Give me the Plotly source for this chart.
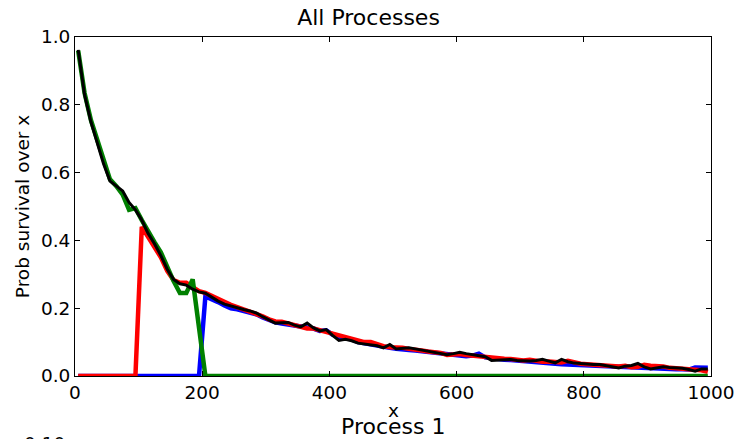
import plotly.graph_objects as go

# sampling grid of the survival curves
x_vals = list(range(5, 1000, 10))

# combined survival curve over all processes
all_surv = [
    0.962, 0.830, 0.750, 0.690, 0.625, 0.575, 0.560, 0.546, 0.512, 0.490,
    0.460, 0.420, 0.390, 0.355, 0.315, 0.285, 0.272, 0.268, 0.256, 0.248,
    0.244, 0.232, 0.221, 0.212, 0.206, 0.200, 0.196, 0.192, 0.186, 0.175,
    0.165, 0.156, 0.157, 0.158, 0.150, 0.145, 0.156, 0.142, 0.133, 0.137,
    0.120, 0.105, 0.108, 0.104, 0.097, 0.095, 0.093, 0.089, 0.083, 0.093,
    0.080, 0.082, 0.083, 0.080, 0.077, 0.074, 0.071, 0.068, 0.063, 0.066,
    0.070, 0.066, 0.063, 0.060, 0.057, 0.046, 0.047, 0.049, 0.049, 0.046,
    0.045, 0.044, 0.046, 0.049, 0.044, 0.039, 0.049, 0.042, 0.038, 0.036,
    0.034, 0.034, 0.034, 0.031, 0.027, 0.024, 0.029, 0.031, 0.037, 0.027,
    0.021, 0.025, 0.027, 0.025, 0.024, 0.023, 0.019, 0.014, 0.021, 0.021,
]

# red process: starts at x = 100
red_surv = [0.0] * 10 + [
    0.440, 0.410, 0.385, 0.350, 0.310, 0.283, 0.275, 0.275, 0.262, 0.250,
    0.245, 0.236, 0.225, 0.218, 0.210, 0.203, 0.197, 0.190, 0.183, 0.176,
    0.167, 0.161, 0.160, 0.155, 0.152, 0.146, 0.140, 0.140, 0.135, 0.130,
    0.125, 0.120, 0.118, 0.112, 0.105, 0.100, 0.100, 0.093, 0.088, 0.085,
    0.085, 0.083, 0.080, 0.076, 0.075, 0.072, 0.070, 0.068, 0.062, 0.063,
    0.065, 0.062, 0.060, 0.058, 0.056, 0.055, 0.050, 0.051, 0.050, 0.047,
    0.046, 0.048, 0.044, 0.042, 0.043, 0.040, 0.040, 0.045, 0.040, 0.036,
    0.035, 0.033, 0.032, 0.032, 0.028, 0.028, 0.030, 0.026, 0.027, 0.033,
    0.030, 0.030, 0.028, 0.024, 0.023, 0.022, 0.020, 0.020, 0.017, 0.012,
]

# blue process: starts at x = 200
blue_surv = [0.0] * 20 + [
    0.235, 0.228, 0.218, 0.208, 0.200, 0.197, 0.192, 0.187, 0.182, 0.173,
    0.165, 0.158, 0.155, 0.152, 0.148, 0.143, 0.140, 0.140, 0.133, 0.135,
    0.122, 0.115, 0.112, 0.108, 0.100, 0.096, 0.092, 0.088, 0.086, 0.083,
    0.080, 0.080, 0.077, 0.075, 0.073, 0.070, 0.068, 0.064, 0.062, 0.061,
    0.060, 0.058, 0.060, 0.066, 0.055, 0.052, 0.050, 0.048, 0.047, 0.045,
    0.043, 0.041, 0.040, 0.040, 0.038, 0.036, 0.035, 0.034, 0.033, 0.032,
    0.031, 0.030, 0.030, 0.029, 0.027, 0.026, 0.025, 0.024, 0.024, 0.023,
    0.022, 0.022, 0.021, 0.021, 0.020, 0.020, 0.019, 0.025, 0.024, 0.024,
]

# green process: ends at x = 200
green_surv = [
    0.960, 0.835, 0.755, 0.695, 0.630, 0.580, 0.560, 0.535, 0.490, 0.495,
    0.460, 0.425, 0.395, 0.365, 0.320, 0.280, 0.245, 0.245, 0.285, 0.130,
] + [0.0] * 80

x_ticks = [0, 200, 400, 600, 800, 1000]
y_ticks = [0.0, 0.2, 0.4, 0.6, 0.8, 1.0]

fig = go.Figure()
for ys, color, width in [
    (blue_surv, "#0000ff", 4.5),
    (red_surv, "#ff0000", 4.5),
    (green_surv, "#008000", 4.5),
    (all_surv, "#000000", 3),
]:
    fig.add_trace(go.Scatter(x=x_vals, y=ys, mode="lines",
                             line=dict(color=color, width=width),
                             showlegend=False, hoverinfo="skip"))

font = "DejaVu Sans, Bitstream Vera Sans, sans-serif"
axis_common = dict(
    showline=True, linecolor="black", linewidth=1, mirror="allticks",
    ticks="inside", ticklen=5, tickcolor="black", tickwidth=1,
    showgrid=False, zeroline=False, automargin=False,
    tickfont=dict(family=font, size=18.5, color="black"),
)

fig.update_layout(
    width=737, height=439,
    margin=dict(l=75, r=26, t=36.5, b=62.5),
    paper_bgcolor="white", plot_bgcolor="white",
    font=dict(family=font, color="black"),
    title=dict(text="All Processes", x=0.5, xanchor="center",
               y=1, yref="container", yanchor="top", pad=dict(t=10),
               font=dict(family=font, size=22, color="black")),
    xaxis=dict(range=[0, 1000], tickvals=x_ticks,
               ticktext=[str(v) for v in x_ticks], **axis_common),
    yaxis=dict(range=[0, 1.0], tickvals=y_ticks,
               ticktext=[f"{v:.1f}" for v in y_ticks],
               title=dict(text="Prob survival over x", standoff=6,
                          font=dict(family=font, size=18.5, color="black")),
               **axis_common),
    annotations=[
        dict(text="x", xref="paper", yref="paper", x=0.5, y=0,
             xanchor="center", yanchor="top", yshift=-22, showarrow=False,
             font=dict(family=font, size=18.5, color="black")),
        dict(text="Process 1", xref="paper", yref="paper", x=0.5, y=0,
             xanchor="center", yanchor="top", yshift=-36, showarrow=False,
             font=dict(family=font, size=22, color="black")),
        dict(text="0.10", xref="paper", yref="paper", x=0, y=0,
             xanchor="right", yanchor="top", xshift=-8, yshift=-55,
             showarrow=False,
             font=dict(family=font, size=18.5, color="black")),
    ],
)

fig.write_html("out.html")
